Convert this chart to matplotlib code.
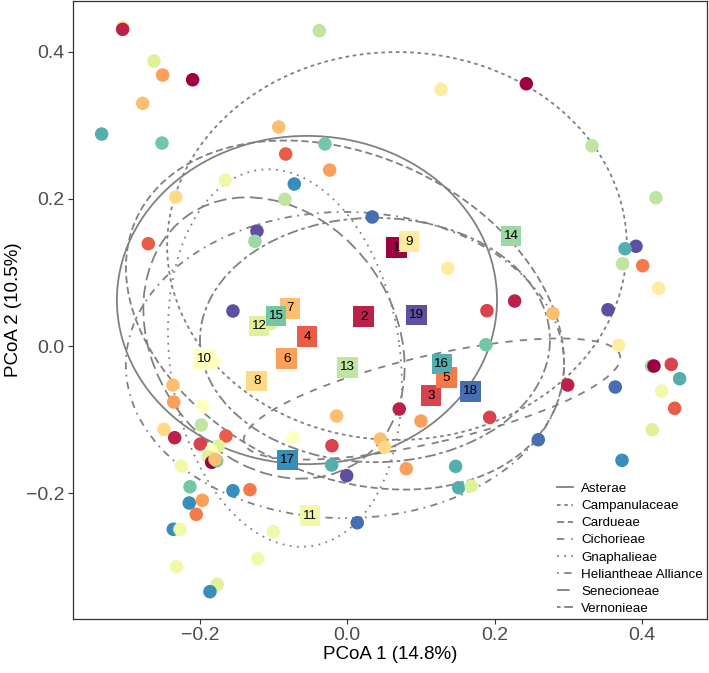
import numpy as np
import pandas as pd
import matplotlib
matplotlib.use("Agg")
import matplotlib.pyplot as plt
from matplotlib.patches import Ellipse
from matplotlib.lines import Line2D

plt.rcParams["font.family"] = ["Liberation Sans", "DejaVu Sans"]

# sample scores on the first two axes, with the site each sample came from
pc1 = [-0.3045, -0.3049, -0.0380, -0.2624, -0.2506, -0.2099, -0.2777, -0.3334, -0.2515, -0.0931,
       -0.0303, -0.0836, -0.0239, -0.1656, -0.0719, -0.0846, -0.2329, -0.1226, -0.1253, -0.2701,
       -0.1552, -0.1026, -0.1805, 0.1272, 0.2430, 0.3322, 0.4190, 0.0339, 0.1363, 0.3919,
       0.3770, 0.3738, 0.4010, 0.4227, 0.3539, 0.1896, 0.2272, 0.2792, 0.1883, 0.3684,
       0.4132, 0.4163, 0.4398, 0.4512, 0.4268, 0.4444, 0.3638, 0.2992, 0.4140, 0.3729,
       0.0706, 0.1000, 0.1933, 0.2593, 0.0448, 0.0508, 0.0801, 0.1471, 0.1512, 0.1683,
       0.0136, -0.0008, -0.2366, -0.2356, -0.1968, -0.1982, -0.2488, -0.2343, -0.1995, -0.1647,
       -0.1751, -0.1846, -0.1887, -0.1841, -0.1773, -0.1796, -0.2248, -0.2135, -0.2145, -0.1968,
       -0.2050, -0.1552, -0.1321, -0.2362, -0.2271, -0.2316, -0.1765, -0.1864, -0.1004, -0.1216,
       -0.0741, -0.0144, -0.0208, -0.0212]
pc2 = [0.4334, 0.4303, 0.4284, 0.3872, 0.3682, 0.3618, 0.3298, 0.2880, 0.2758, 0.2976,
       0.2745, 0.2609, 0.2391, 0.2255, 0.2201, 0.1993, 0.2024, 0.1562, 0.1423, 0.1390,
       0.0476, 0.0308, -0.0213, 0.3488, 0.3564, 0.2721, 0.2015, 0.1753, 0.1056, 0.1355,
       0.1322, 0.1118, 0.1091, 0.0784, 0.0493, 0.0480, 0.0611, 0.0444, 0.0018, 0.0010,
       -0.0272, -0.0272, -0.0249, -0.0444, -0.0611, -0.0846, -0.0557, -0.0530, -0.1137, -0.1553,
       -0.0856, -0.1019, -0.0969, -0.1273, -0.1264, -0.1376, -0.1667, -0.1635, -0.1925, -0.1902,
       -0.2401, -0.1762, -0.0530, -0.0761, -0.0815, -0.1073, -0.1132, -0.1246, -0.1332, -0.1223,
       -0.1359, -0.1427, -0.1504, -0.1580, -0.1558, -0.1539, -0.1630, -0.1912, -0.2133, -0.2096,
       -0.2287, -0.1966, -0.1952, -0.2490, -0.2490, -0.2999, -0.3238, -0.3338, -0.2523, -0.2890,
       -0.1246, -0.0951, -0.1355, -0.1617]
site = [9, 2, 13, 12, 6, 1, 7, 16, 15, 7,
        15, 4, 6, 11, 17, 13, 8, 19, 14, 4,
        19, 12, 10, 9, 1, 13, 13, 18, 9, 19,
        16, 13, 5, 9, 19, 3, 2, 7, 15, 9,
        14, 1, 3, 16, 11, 4, 18, 2, 12, 17,
        2, 6, 3, 18, 7, 8, 6, 16, 16, 12,
        18, 19, 7, 6, 10, 13, 8, 2, 3, 4,
        12, 10, 12, 1, 15, 7, 11, 15, 17, 6,
        5, 17, 5, 17, 11, 11, 12, 17, 11, 11,
        10, 7, 3, 16]

# site centroids
cent_site = list(range(1, 20))
cent_pc1 = [0.0671, 0.0223, 0.1136, -0.0547, 0.1344, -0.0823, -0.0778, -0.1230, 0.0838, -0.1941,
            -0.0506, -0.1199, 0.0005, 0.2222, -0.0968, 0.1285, -0.0814, 0.1675, 0.0937]
cent_pc2 = [0.1336, 0.0398, -0.0675, 0.0126, -0.0431, -0.0173, 0.0512, -0.0476, 0.1417, -0.0181,
            -0.2306, 0.0272, -0.0289, 0.1495, 0.0408, -0.0245, -0.1549, -0.0615, 0.0421]

# 95% ellipses per tribe (centre, full axes, rotation in degrees)
tribes = ["Asterae", "Campanulaceae", "Cardueae", "Cichorieae", "Gnaphalieae",
          "Heliantheae Alliance", "Senecioneae", "Vernonieae"]
ell_x = [-0.0547, 0.0675, -0.0031, 0.1150, -0.0846, -0.0031, -0.0995, 0.0376]
ell_y = [0.0625, 0.1359, 0.0421, -0.0720, -0.0163, -0.0258, 0.0109, 0.0082]
ell_w = [0.516, 0.624, 0.624, 0.524, 0.516, 0.595, 0.407, 0.475]
ell_h = [0.446, 0.527, 0.435, 0.118, 0.3125, 0.416, 0.326, 0.332]
ell_angle = [0, 0, -25, 13, 98, 0, -55, 0]

# ggplot default linetypes, in units of line width
linetypes = ["-", (0, (2, 2)), (0, (4, 2)), (0, (4, 4)), (0, (1, 3)),
             (0, (1, 3, 4, 3)), (0, (7, 3)), (0, (2, 2, 6, 2))]

samples = pd.DataFrame({"pc1": pc1, "pc2": pc2, "site": site})
cmap = plt.get_cmap("Spectral")


def site_colour(s):
    return cmap((s - 1) / 18)


fig = plt.figure(figsize=(7.09, 6.73), dpi=100)
ax = fig.add_axes([73 / 709, 54 / 673, 634 / 709, 618 / 673])

ell_lw = 1.3
for n, tribe in enumerate(tribes):
    e = Ellipse((ell_x[n], ell_y[n]), ell_w[n], ell_h[n], angle=ell_angle[n],
                fill=False, edgecolor="#808080", linewidth=ell_lw,
                linestyle=linetypes[n], zorder=2)
    ax.add_patch(e)

ax.scatter(samples["pc1"], samples["pc2"], s=95,
           c=[site_colour(s) for s in samples["site"]], linewidths=0, zorder=3)

ax.scatter(cent_pc1, cent_pc2, s=225, marker="s",
           c=[site_colour(s) for s in cent_site], linewidths=0, zorder=4)
for s, x, y in zip(cent_site, cent_pc1, cent_pc2):
    ax.text(x, y, str(s), ha="center", va="center", fontsize=9.6, color="black", zorder=5)

ax.set_xlim(-0.3723, 0.4883)
ax.set_ylim(-0.3709, 0.4688)
ax.set_xticks([-0.2, 0.0, 0.2, 0.4])
ax.set_yticks([-0.2, 0.0, 0.2, 0.4])
ax.set_xticklabels(["\u22120.2", "0.0", "0.2", "0.4"])
ax.set_yticklabels(["\u22120.2", "0.0", "0.2", "0.4"])
ax.tick_params(direction="out", length=3.5, width=0.8, color="#333333",
               labelsize=14, labelcolor="#4d4d4d", pad=2.5)
for sp in ax.spines.values():
    sp.set_color("#333333")
    sp.set_linewidth(0.9)

ax.set_xlabel("PCoA 1 (14.8%)", fontsize=13.5, labelpad=1)
ax.set_ylabel("PCoA 2 (10.5%)", fontsize=13.5, labelpad=3)

handles = [Line2D([], [], color="#808080", linewidth=ell_lw, linestyle=linetypes[n])
           for n in range(len(tribes))]
leg = ax.legend(handles, tribes, loc="lower right", bbox_to_anchor=(1.0, 0.0),
                frameon=False, fontsize=9.6, handlelength=1.25, handletextpad=0.6,
                labelspacing=0.36, borderaxespad=0.0, borderpad=0.3)

fig.savefig("out.png", dpi=100)
